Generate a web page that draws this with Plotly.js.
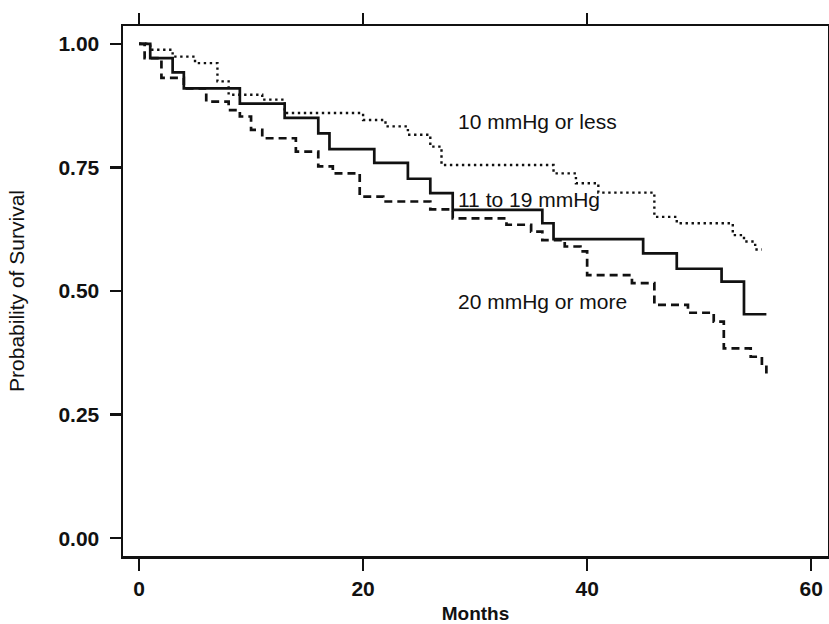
<!DOCTYPE html>
<html>
<head>
<meta charset="utf-8">
<script src="https://cdn.plot.ly/plotly-3.0.1.min.js"></script>
<style>html,body{margin:0;padding:0;background:#fff;}#chart{width:829px;height:624px;}</style>
</head>
<body>
<div id="chart"></div>
<script>
// Kaplan-Meier step data
var lowMonths = [0, 1, 3, 5, 7, 8, 11, 13, 20, 22, 24, 26, 27, 37, 39, 41, 46, 48, 53, 54, 55, 55.6];
var lowSurv   = [1.0, 0.988, 0.974, 0.961, 0.924, 0.897, 0.887, 0.860, 0.846, 0.833, 0.816, 0.792, 0.755, 0.738, 0.718, 0.699, 0.650, 0.637, 0.613, 0.600, 0.584, 0.584];

var midMonths = [0, 1, 3, 4, 9, 13, 16, 17, 21, 24, 26, 28, 36, 37, 45, 48, 52, 54, 56];
var midSurv   = [1.0, 0.971, 0.942, 0.910, 0.879, 0.850, 0.819, 0.787, 0.759, 0.727, 0.698, 0.664, 0.637, 0.605, 0.576, 0.545, 0.519, 0.453, 0.453];

var highMonths = [0, 0.5, 2, 4, 6, 8, 9, 10, 11, 14, 16, 17.3, 19.7, 21.8, 26, 28, 32.8, 35, 36, 38, 39.4, 40, 44, 46, 49, 51.3, 52.2, 54.6, 55.6, 56];
var highSurv   = [1.0, 0.971, 0.931, 0.910, 0.883, 0.866, 0.853, 0.826, 0.809, 0.782, 0.752, 0.738, 0.691, 0.681, 0.665, 0.647, 0.634, 0.620, 0.603, 0.590, 0.580, 0.532, 0.516, 0.472, 0.456, 0.438, 0.384, 0.367, 0.350, 0.323];

var groupLabels = ["10 mmHg or less", "11 to 19 mmHg", "20 mmHg or more"];
var labelMonths = [35.6, 34.8, 36.0];
var labelSurv = [0.842, 0.686, 0.478];

var xTicks = [0, 20, 40, 60];
var yTicks = [0, 0.25, 0.5, 0.75, 1.0];
var yTickText = ["0.00", "0.25", "0.50", "0.75", "1.00"];

var FONT = "Liberation Sans Narrow, Arial Narrow, Liberation Sans, Arial, sans-serif";

var traces = [
  {x: lowMonths, y: lowSurv, mode: "lines", line: {shape: "hv", color: "#111", width: 2.4, dash: "2.4px,3.6px"}, hoverinfo: "skip"},
  {x: midMonths, y: midSurv, mode: "lines", line: {shape: "hv", color: "#111", width: 2.7}, hoverinfo: "skip"},
  {x: highMonths, y: highSurv, mode: "lines", line: {shape: "hv", color: "#111", width: 2.7, dash: "8px,5px"}, hoverinfo: "skip"},
  {x: [0, 60], y: [null, null], xaxis: "x2", yaxis: "y", mode: "lines", showlegend: false, hoverinfo: "skip"}
];

var annotations = groupLabels.map(function (t, i) {
  return {x: labelMonths[i], y: labelSurv[i], xref: "x", yref: "y", text: t, showarrow: false,
          font: {family: "Liberation Sans, Arial, sans-serif", size: 21, color: "#111"}};
});

var layout = {
  width: 829, height: 624,
  margin: {l: 123, r: 1, t: 26, b: 68},
  paper_bgcolor: "#fff", plot_bgcolor: "#fff",
  showlegend: false,
  font: {family: FONT, color: "#111"},
  xaxis: {
    range: [-1.43, 61.5], tickvals: xTicks, ticktext: xTicks.map(String),
    ticks: "outside", ticklen: 12, tickwidth: 2.5, tickcolor: "#111",
    showline: true, linewidth: 2.5, linecolor: "#111", mirror: true,
    showgrid: false, zeroline: false,
    tickfont: {family: FONT, size: 21, color: "#111", weight: "bold"},
    title: {text: "Months", font: {family: FONT, size: 19, color: "#111", weight: "bold"}, standoff: 19},
    automargin: false
  },
  xaxis2: {
    overlaying: "x", side: "top", range: [-1.43, 61.5], tickvals: [0, 20, 40],
    ticks: "outside", ticklen: 12, tickwidth: 2.5, tickcolor: "#111",
    showticklabels: false, showline: false, showgrid: false, zeroline: false
  },
  yaxis: {
    range: [-0.036, 1.036], tickvals: yTicks, ticktext: yTickText,
    ticks: "outside", ticklen: 11, tickwidth: 2.5, tickcolor: "#111",
    showline: true, linewidth: 2.5, linecolor: "#111", mirror: true,
    showgrid: false, zeroline: false,
    tickfont: {family: FONT, size: 21, color: "#111", weight: "bold"},
    ticklabelstandoff: 6,
    title: {text: "Probability of Survival", font: {family: FONT, size: 21, color: "#111"}, standoff: 28},
    automargin: false
  },
  annotations: annotations
};

Plotly.newPlot("chart", traces, layout, {staticPlot: true, displayModeBar: false});
</script>
</body>
</html>
